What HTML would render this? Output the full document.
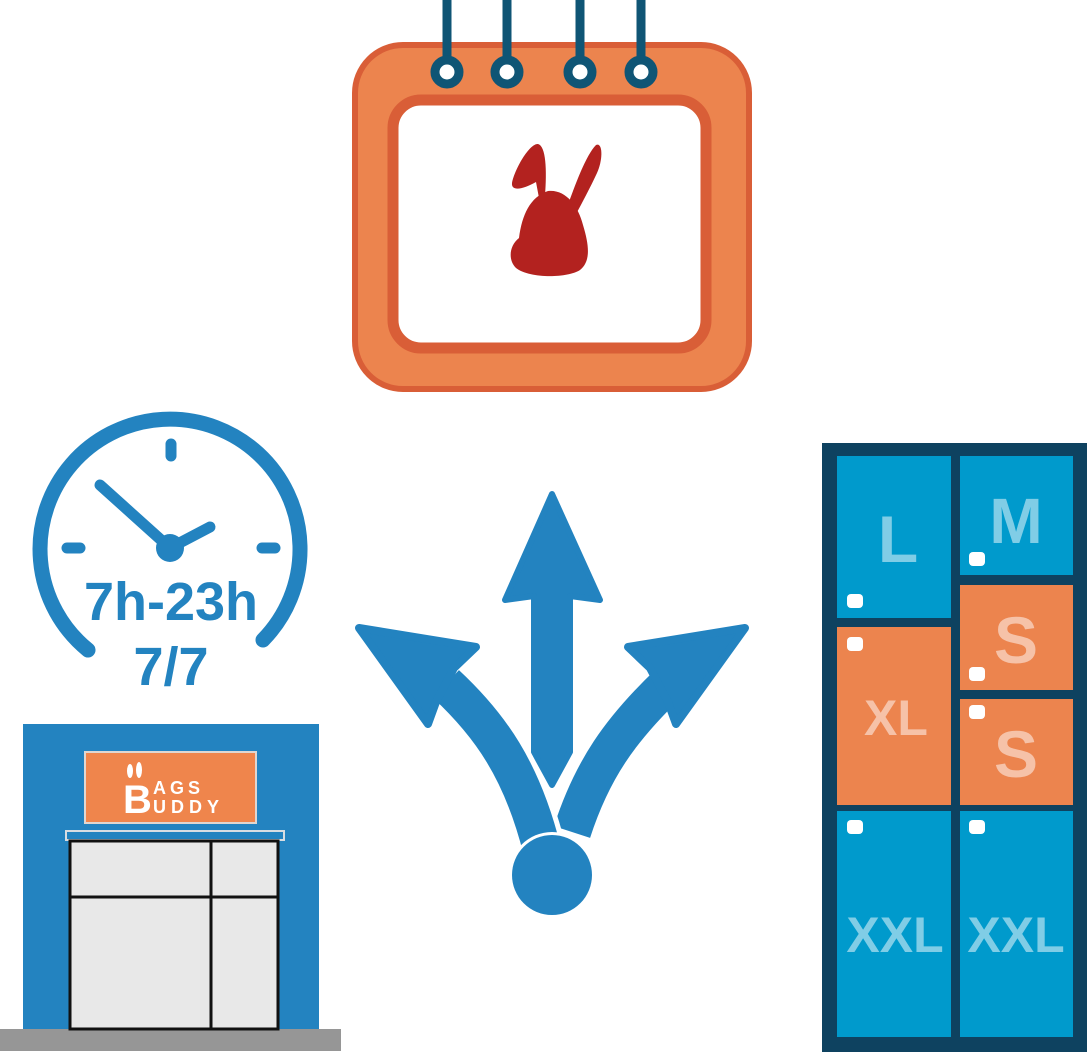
<!DOCTYPE html>
<html><head><meta charset="utf-8"><style>html,body{margin:0;padding:0;background:#fff}svg{display:block}</style></head><body>
<svg width="1087" height="1052" viewBox="0 0 1087 1052" xmlns="http://www.w3.org/2000/svg">
<!-- Calendar -->
<rect x="355" y="45" width="394" height="344" rx="48" fill="#ec844e" stroke="#d95e37" stroke-width="6"/>
<rect x="393" y="100" width="313" height="248" rx="28" fill="#fff" stroke="#d95e37" stroke-width="11"/>
<g stroke="#0f5575" stroke-width="9" fill="#fff">
<line x1="447" y1="0" x2="447" y2="62"/><line x1="507" y1="0" x2="507" y2="62"/><line x1="580" y1="0" x2="580" y2="62"/><line x1="641" y1="0" x2="641" y2="62"/>
<circle cx="447" cy="72" r="12"/><circle cx="507" cy="72" r="12"/><circle cx="580" cy="72" r="12"/><circle cx="641" cy="72" r="12"/>
</g>
<g fill="#b3221f">
<path d="M545 196 C547 170 546 146 538 144 C530 143 515 168 512 183 C511 192 524 189 536 182 L539 198 Z"/>
<path d="M566 210 C575 185 586 155 596 145 C603 142 603 160 597 173 C590 188 582 203 576 214 Z"/>
<path d="M548 191 C565 189 578 205 583 225 C590 248 590 262 580 270 C568 278 530 279 516 268 C508 260 509 246 519 238 C522 215 530 197 548 191 Z"/>
</g>
<!-- Clock -->
<path d="M88 650 A130 130 0 1 1 263 640" fill="none" stroke="#2383c0" stroke-width="15" stroke-linecap="round"/>
<g stroke="#2383c0" stroke-width="11" stroke-linecap="round">
<line x1="171" y1="444" x2="171" y2="456"/><line x1="67" y1="548" x2="80" y2="548"/><line x1="262" y1="548" x2="275" y2="548"/>
<line x1="100" y1="485" x2="170" y2="548"/><line x1="170" y1="548" x2="210" y2="527"/>
</g>
<circle cx="170" cy="548" r="14" fill="#2383c0"/>
<text x="171" y="620" text-anchor="middle" font-family="Liberation Sans, sans-serif" font-size="54" font-weight="bold" fill="#2383c0">7h-23h</text>
<text x="171" y="685" text-anchor="middle" font-family="Liberation Sans, sans-serif" font-size="54" font-weight="bold" fill="#2383c0">7/7</text>
<!-- Store -->
<rect x="23" y="724" width="296" height="306" fill="#2383c0"/>
<rect x="0" y="1029" width="341" height="22" fill="#969696"/>
<rect x="85" y="752" width="171" height="71" fill="#ef854c" stroke="#e0d6d0" stroke-width="2"/>
<g fill="#fff">
<ellipse cx="130" cy="771" rx="3" ry="7"/><ellipse cx="139" cy="770" rx="3" ry="8"/>
</g>
<text x="123" y="813" font-family="Liberation Sans, sans-serif" font-size="40" font-weight="bold" fill="#fff">B</text>
<text x="153" y="794" font-family="Liberation Sans, sans-serif" font-size="18" font-weight="bold" fill="#fff" letter-spacing="4">AGS</text>
<text x="153" y="813" font-family="Liberation Sans, sans-serif" font-size="18" font-weight="bold" fill="#fff" letter-spacing="5">UDDY</text>
<rect x="66" y="831" width="218" height="9" fill="#2383c0" stroke="#d8dde2" stroke-width="2"/>
<rect x="70" y="841" width="208" height="188" fill="#e8e8e8" stroke="#111" stroke-width="3"/>
<line x1="211" y1="841" x2="211" y2="1029" stroke="#111" stroke-width="3"/>
<line x1="70" y1="897" x2="278" y2="897" stroke="#111" stroke-width="3"/>
<!-- Arrows -->
<path d="M552 494 L600 600 L570 596 L570 752 L552 785 L534 752 L534 596 L505 600 Z" fill="#2383c0" stroke="#2383c0" stroke-width="6" stroke-linejoin="round"/>
<path d="M572 832 C592 770 620 730 668 684" fill="none" stroke="#2383c0" stroke-width="38"/>
<path d="M542 850 C522 770 490 725 446 684" fill="none" stroke="#fff" stroke-width="48"/>
<path d="M542 850 C522 770 490 725 446 684" fill="none" stroke="#2383c0" stroke-width="38"/>
<g fill="#2383c0" stroke="#2383c0" stroke-width="8" stroke-linejoin="round">
<path d="M359 628 L476 647 L454 668 L436 702 L428 724 Z"/>
<path d="M745 628 L628 647 L650 668 L668 702 L676 724 Z"/>
</g>
<circle cx="552" cy="875" r="43" fill="#fff"/>
<circle cx="552" cy="875" r="40" fill="#2383c0"/>
<!-- Lockers -->
<rect x="822" y="443" width="265" height="609" fill="#0e4260"/>
<g>
<rect x="837" y="456" width="114" height="162" fill="#009acc"/>
<rect x="960" y="456" width="113" height="119" fill="#009acc"/>
<rect x="960" y="585" width="113" height="105" fill="#ec844e"/>
<rect x="960" y="699" width="113" height="106" fill="#ec844e"/>
<rect x="837" y="627" width="114" height="178" fill="#ec844e"/>
<rect x="837" y="811" width="114" height="226" fill="#009acc"/>
<rect x="960" y="811" width="113" height="226" fill="#009acc"/>
</g>
<g fill="#fff">
<rect x="847" y="594" width="16" height="14" rx="4"/>
<rect x="969" y="552" width="16" height="14" rx="4"/>
<rect x="847" y="637" width="16" height="14" rx="4"/>
<rect x="969" y="667" width="16" height="14" rx="4"/>
<rect x="969" y="705" width="16" height="14" rx="4"/>
<rect x="847" y="820" width="16" height="14" rx="4"/>
<rect x="969" y="820" width="16" height="14" rx="4"/>
</g>
<g font-family="Liberation Sans, sans-serif" font-weight="bold" text-anchor="middle">
<text x="898" y="562" font-size="66" fill="#80cde6">L</text>
<text x="1016" y="543" font-size="64" fill="#80cde6">M</text>
<text x="1016" y="663" font-size="66" fill="#f6c2a8">S</text>
<text x="1016" y="777" font-size="66" fill="#f6c2a8">S</text>
<text x="896" y="735" font-size="50" fill="#f6c2a8">XL</text>
<text x="895" y="952" font-size="50" fill="#80cde6">XXL</text>
<text x="1016" y="952" font-size="50" fill="#80cde6">XXL</text>
</g>
</svg>
</body></html>
